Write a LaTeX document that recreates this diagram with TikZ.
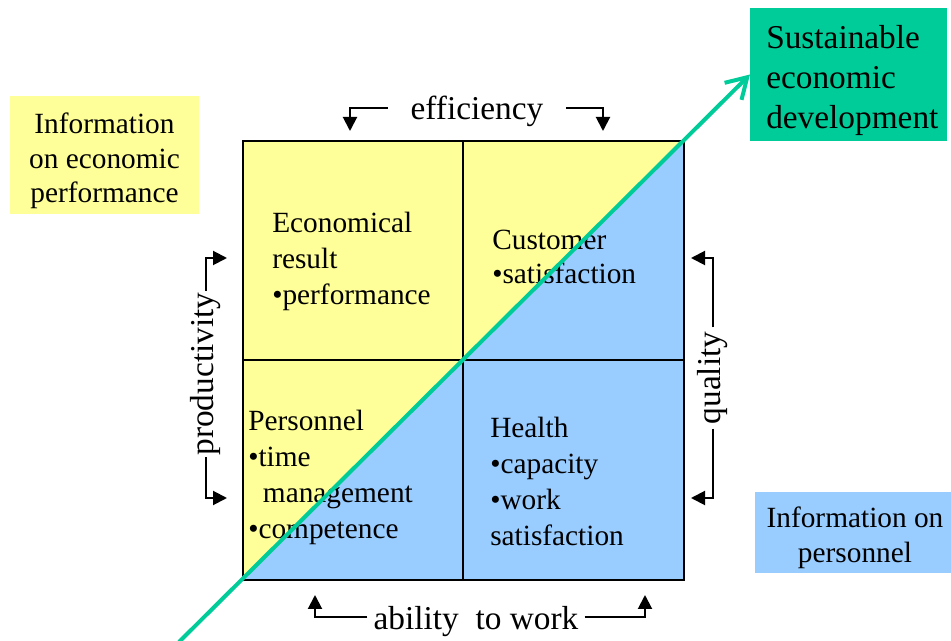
\documentclass[tikz,border=0pt]{standalone}
\usepackage{fontspec}
\setmainfont{Liberation Serif}
\usetikzlibrary{arrows.meta}
\definecolor{infoyellow}{HTML}{FFFF99}
\definecolor{infoblue}{HTML}{99CCFF}
\definecolor{sustgreen}{HTML}{00CC99}

\begin{document}
\begin{tikzpicture}[x=0.75pt,y=0.75pt,yscale=-1,xscale=1,
    quad/.style={anchor=west,inner sep=0pt,align=left,font=\fontsize{22}{27}\selectfont},
    dimlabel/.style={inner ysep=0pt,font=\fontsize{25}{30}\selectfont},
    tip/.style={line width=1.5pt,-{Triangle[length=10.5pt,width=10.5pt]}},
    boxfill/.style={fill=#1,inner sep=0pt},
    boxtext/.style={inner sep=0pt,align=center,font=\fontsize{22}{26}\selectfont}]
    \useasboundingbox (0,0) rectangle (951,641);
    % the square, yellow above the diagonal and blue below it
    \coordinate (sqNW) at (243,141);
    \coordinate (sqNE) at (684,141);
    \coordinate (sqSE) at (684,580);
    \coordinate (sqSW) at (243,580);
    \fill [infoyellow] (sqNW) rectangle (sqSE);
    \fill [infoblue] (sqSW) -- (sqNE) -- (sqSE) -- cycle;
    \draw [line width=2pt] (sqNW) rectangle (sqSE);
    \draw [line width=2pt] (463,141) -- (463,580);
    \draw [line width=2pt] (243,360) -- (684,360);
    % quadrant texts
    \node [quad] (econ) at (272,261) {Economical\\result\\•performance};
    \node [quad,font=\fontsize{22}{25.5}\selectfont] (cust) at (492,257) {Customer\\•satisfaction};
    \node [quad] (pers) at (248,477) {Personnel\\•time\\\hspace*{11pt}management\\•competence};
    \node [quad] (health) at (490,481) {Health\\•capacity\\•work\\satisfaction};
    % boxes
    \node [boxfill=infoyellow,minimum width=141.75pt,minimum height=88.5pt] (infoecon) at (104.5,155) {};
    \node [boxtext] (infoecontxt) at ([yshift=4.5pt]infoecon.center) {Information\\on economic\\performance};
    \node [boxfill=infoblue,minimum width=147pt,minimum height=60.75pt] (infopers) at (853,532.5) {};
    \node [boxtext] (infoperstxt) at ([xshift=1.5pt,yshift=4pt]infopers.center) {Information on\\personnel};
    \node [boxfill=sustgreen,minimum width=147.75pt,minimum height=99.75pt,anchor=west] (sust) at (750,74.5) {};
    \node [inner sep=0pt,align=left,font=\fontsize{25}{30}\selectfont,anchor=west] (susttxt)
        at ([xshift=12pt,yshift=4.5pt]sust.west) {Sustainable\\economic\\development};
    % growth arrow along the diagonal
    \coordinate (grow) at (179,642);
    \draw [sustgreen,line width=3pt,-{Straight Barb[length=15pt,width=18pt]}] (grow) -- (sust.west);
    % labels with their brackets
    \node [dimlabel,inner xsep=17pt] (eff) at (477,111) {efficiency};
    \coordinate (effL) at (350,131);
    \coordinate (effR) at (603,131);
    \draw [tip] ([yshift=-2pt]eff.west) -| (effL);
    \draw [tip] ([yshift=-2pt]eff.east) -| (effR);
    \node [dimlabel,rotate=90,inner xsep=1pt] (prod) at (206,374) {productivity};
    \coordinate (prodT) at (227,258);
    \coordinate (prodB) at (227,498);
    \draw [tip] (prod.east) |- (prodT);
    \draw [tip] (prod.west) |- (prodB);
    \node [dimlabel,rotate=90,inner xsep=3pt] (qual) at (713,378) {quality};
    \coordinate (qualT) at (691,258);
    \coordinate (qualB) at (691,498);
    \draw [tip] (qual.east) |- (qualT);
    \draw [tip] (qual.west) |- (qualB);
    \node [dimlabel,inner xsep=4.5pt] (abil) at (476,622) {ability\ \ to work};
    \coordinate (abilL) at (315,595);
    \coordinate (abilR) at (645,595);
    \draw [tip] ([yshift=-4pt]abil.west) -| (abilL);
    \draw [tip] ([yshift=-4pt]abil.east) -| (abilR);
\end{tikzpicture}
\end{document}
